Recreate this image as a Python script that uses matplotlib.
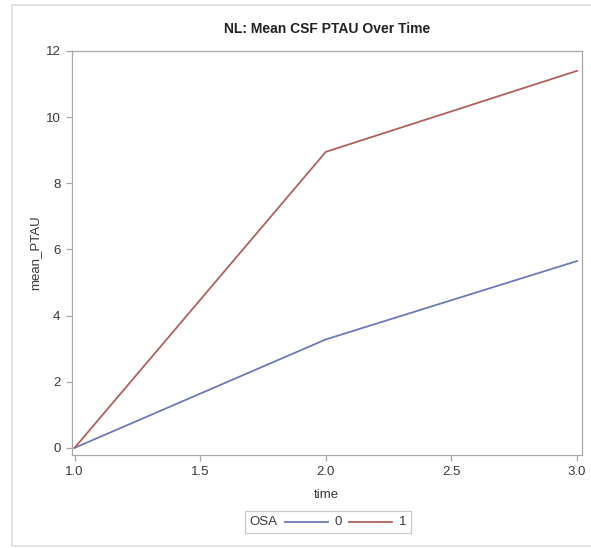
import matplotlib
matplotlib.use("Agg")
import matplotlib.pyplot as plt
from matplotlib.lines import Line2D
from matplotlib.patches import Rectangle
from matplotlib.offsetbox import AnchoredOffsetbox, HPacker, TextArea, DrawingArea

plt.rcParams["font.family"] = ["Liberation Sans", "DejaVu Sans"]

time = [1.0, 2.0, 3.0]
osa_groups = ["0", "1"]
mean_ptau_0 = [0.0, 3.28, 5.65]
mean_ptau_1 = [0.0, 8.95, 11.4]

colors = ["#6d79b8", "#b0605c"]
axis_gray = "#a8a8a8"
text_gray = "#383838"

fig = plt.figure(figsize=(5.91, 5.48), dpi=100)
ax = fig.add_axes([0.121, 0.170, 0.864, 0.737])

for vals, col in zip([mean_ptau_0, mean_ptau_1], colors):
    ax.plot(time, vals, color=col, linewidth=1.3)

ax.set_xlim(0.988, 3.02)
ax.set_ylim(-0.21, 12)
ax.set_xticks([1.0, 1.5, 2.0, 2.5, 3.0])
ax.set_xticklabels(["1.0", "1.5", "2.0", "2.5", "3.0"])
ax.set_yticks(range(0, 13, 2))

for sp in ax.spines.values():
    sp.set_color(axis_gray)
    sp.set_linewidth(0.9)
ax.tick_params(direction="out", length=4, width=0.9, color=axis_gray,
               labelcolor=text_gray, labelsize=9.5, pad=4)

ax.set_xlabel("time", fontsize=9.5, color=text_gray, labelpad=8)
ax.set_ylabel("mean_PTAU", fontsize=9.5, color=text_gray, labelpad=3)
fig.text(0.553, 0.947, "NL: Mean CSF PTAU Over Time", ha="center", va="center",
         fontsize=10, fontweight="bold", color="#222222")

# group legend laid out in one row: "OSA  ---- 0  ---- 1"
items = [TextArea("OSA", textprops=dict(fontsize=9.5, color=text_gray))]
for lab, col in zip(osa_groups, colors):
    da = DrawingArea(31, 8)
    da.add_artist(Line2D([0, 31], [4, 4], color=col, linewidth=1.3))
    items.append(da)
    items.append(TextArea(lab, textprops=dict(fontsize=9.5, color=text_gray)))
row = HPacker(children=items, align="center", pad=0, sep=5)
leg = AnchoredOffsetbox(loc="center", child=row, pad=0.35, borderpad=0, frameon=True,
                        bbox_to_anchor=(0.555, 0.047), bbox_transform=fig.transFigure)
leg.patch.set_edgecolor("#c8c8c8")
leg.patch.set_linewidth(0.9)
fig.add_artist(leg)

# light outer border around the graph (runs off the right edge)
fig.add_artist(Rectangle((0.0203, 0.0036), 1.0, 0.9873, transform=fig.transFigure,
                         fill=False, edgecolor="#dddddd", linewidth=1.2))

fig.savefig("out.png", dpi=100)
